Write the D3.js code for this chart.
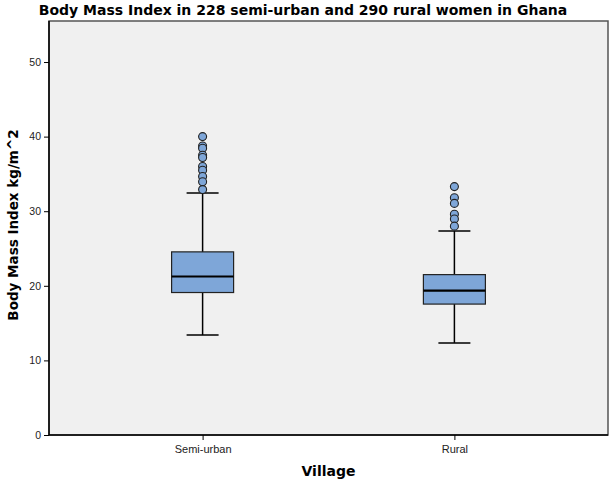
<!DOCTYPE html>
<html>
<head>
<meta charset="utf-8">
<script src="https://cdn.jsdelivr.net/npm/d3@7"></script>
<style>
  body { margin: 0; background: #fff; }
  svg { display: block; font-family: 'DejaVu Sans', sans-serif; }
</style>
</head>
<body>
<div id="chart"></div>
<script>
// Data
const villages = ['Semi-urban', 'Rural'];
const q1 = [19.1, 17.55];
const median = [21.25, 19.35];
const q3 = [24.55, 21.5];
const whiskerLow = [13.4, 12.35];
const whiskerHigh = [32.45, 27.35];
const outliersSemi = [40.0, 38.75, 38.45, 37.5, 37.2, 36.0, 35.5, 34.65, 33.95, 32.9];
const outliersRural = [33.3, 31.8, 31.05, 29.6, 28.95, 28.0];
const outliers = [outliersSemi, outliersRural];
const yTicks = [0, 10, 20, 30, 40, 50];

const stats = villages.map((v, i) => ({
  village: v,
  q1: q1[i], median: median[i], q3: q3[i],
  lo: whiskerLow[i], hi: whiskerHigh[i],
  outliers: outliers[i]
}));

const width = 614;
const height = 484;
const margin = { top: 21, right: 6, bottom: 49, left: 49 };
const usableArea = {
  top: margin.top,
  right: width - margin.right,
  bottom: height - margin.bottom,
  left: margin.left,
};

const svg = d3.select('#chart')
  .append('svg')
  .attr('width', width)
  .attr('height', height);

const yScale = d3.scaleLinear().domain([0, 55.5]).range([usableArea.bottom, usableArea.top]);
const xScale = d3.scalePoint().domain(villages).range([usableArea.left, usableArea.right]).padding(0.61);

// plot background + frame
svg.append('rect')
  .attr('x', usableArea.left)
  .attr('y', usableArea.top)
  .attr('width', usableArea.right - usableArea.left)
  .attr('height', usableArea.bottom - usableArea.top)
  .attr('fill', '#f0f0f0')
  .attr('stroke', '#555')
  .attr('stroke-width', 1.5);

const boxW = 62;
const capW = 32;

const g = svg.append('g').attr('class', 'boxes');
const groups = g.selectAll('g').data(stats).join('g')
  .attr('transform', (d) => `translate(${xScale(d.village)},0)`);

// whiskers
groups.append('line')
  .attr('x1', 0).attr('x2', 0)
  .attr('y1', (d) => yScale(d.lo)).attr('y2', (d) => yScale(d.hi))
  .attr('stroke', '#000').attr('stroke-width', 1.5);
groups.selectAll('line.cap')
  .data((d) => [d.lo, d.hi])
  .join('line')
  .attr('class', 'cap')
  .attr('x1', -capW / 2).attr('x2', capW / 2)
  .attr('y1', (v) => yScale(v)).attr('y2', (v) => yScale(v))
  .attr('stroke', '#000').attr('stroke-width', 1.5);

// boxes
groups.append('rect')
  .attr('x', -boxW / 2)
  .attr('width', boxW)
  .attr('y', (d) => yScale(d.q3))
  .attr('height', (d) => yScale(d.q1) - yScale(d.q3))
  .attr('fill', '#7ea6d8')
  .attr('stroke', '#222')
  .attr('stroke-width', 1.2);
groups.append('line')
  .attr('x1', -boxW / 2).attr('x2', boxW / 2)
  .attr('y1', (d) => yScale(d.median)).attr('y2', (d) => yScale(d.median))
  .attr('stroke', '#000').attr('stroke-width', 2.2);

// outliers
groups.selectAll('circle')
  .data((d) => d.outliers)
  .join('circle')
  .attr('cx', 0)
  .attr('cy', (v) => yScale(v))
  .attr('r', 4)
  .attr('fill', '#7ea6d8')
  .attr('stroke', '#222')
  .attr('stroke-width', 1.1);

// axes
const yAxis = svg.append('g')
  .attr('transform', `translate(${usableArea.left},0)`)
  .call(d3.axisLeft(yScale).tickValues(yTicks).tickSize(5).tickSizeOuter(0));
const xAxis = svg.append('g')
  .attr('transform', `translate(0,${usableArea.bottom})`)
  .call(d3.axisBottom(xScale).tickSize(5).tickSizeOuter(0));

[yAxis, xAxis].forEach((ax) => {
  ax.select('.domain').attr('stroke', '#000').attr('stroke-width', 1.5);
  ax.selectAll('.tick line').attr('stroke', '#000');
  ax.selectAll('.tick text').attr('fill', '#222').style('font-size', '10.5px');
});
yAxis.select('.domain').attr('d', `M0,${usableArea.bottom}V${usableArea.top}`);
xAxis.select('.domain').attr('d', `M${usableArea.left},0H${usableArea.right}`);
xAxis.selectAll('.tick text').attr('dy', '0.95em').style('font-size', '11px');

// titles
svg.append('text')
  .attr('x', 303)
  .attr('y', 15)
  .attr('text-anchor', 'middle')
  .style('font-size', '14px')
  .style('font-weight', 'bold')
  .text('Body Mass Index in 228 semi-urban and 290 rural women in Ghana');

svg.append('text')
  .attr('x', (usableArea.left + usableArea.right) / 2)
  .attr('y', 476)
  .attr('text-anchor', 'middle')
  .style('font-size', '14px')
  .style('font-weight', 'bold')
  .text('Village');

svg.append('text')
  .attr('transform', `translate(18,${(usableArea.top + usableArea.bottom) / 2 - 3}) rotate(-90)`)
  .attr('text-anchor', 'middle')
  .style('font-size', '13.5px')
  .style('font-weight', 'bold')
  .text('Body Mass Index kg/m^2');
</script>
</body>
</html>
